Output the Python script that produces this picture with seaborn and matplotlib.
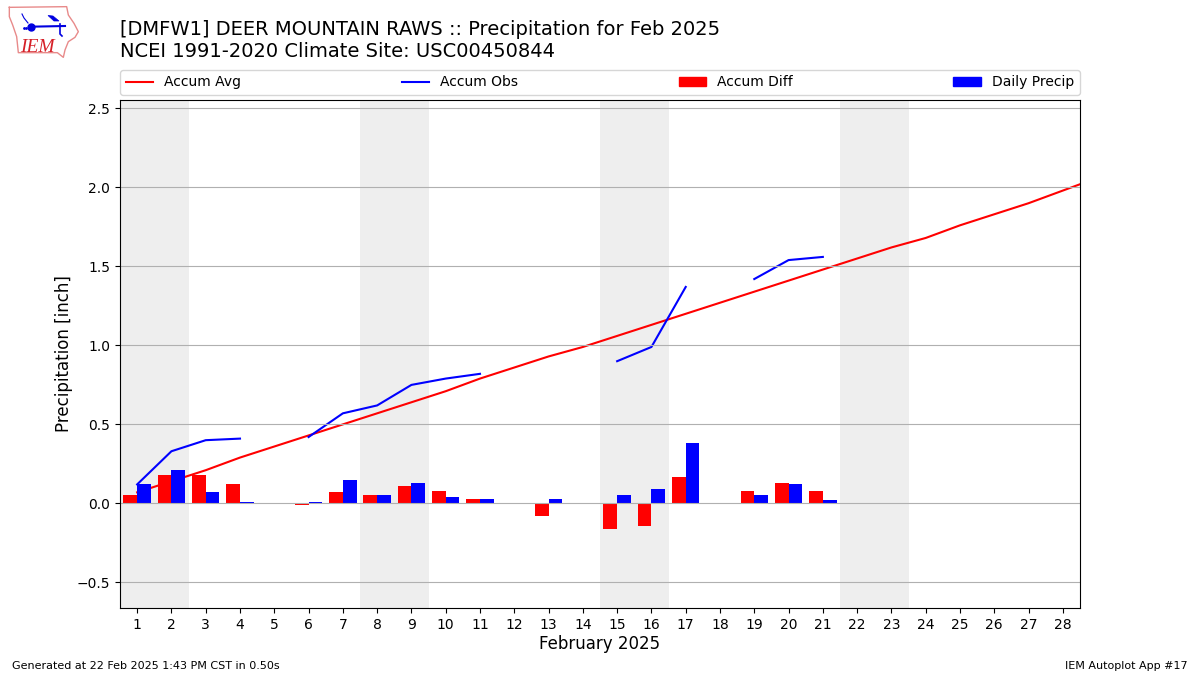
import numpy as np
import pandas as pd
import matplotlib
matplotlib.use("Agg")
import matplotlib.pyplot as plt
from matplotlib.lines import Line2D
from matplotlib.patches import Patch
import seaborn as sns

days = list(range(1, 30))
accum_avg = [0.07, 0.14, 0.21, 0.29, 0.36, 0.43, 0.50, 0.57, 0.64, 0.71, 0.79, 0.86, 0.93, 0.99,
             1.06, 1.13, 1.20, 1.27, 1.34, 1.41, 1.48, 1.55, 1.62, 1.68, 1.76, 1.83, 1.90, 1.98, 2.06]
nan = np.nan
accum_obs = [0.12, 0.33, 0.40, 0.41, nan, 0.42, 0.57, 0.62, 0.75, 0.79, 0.82, nan, nan, nan,
             0.90, 0.99, 1.37, nan, 1.42, 1.54, 1.56] + [nan] * 8
bar_days = [1, 2, 3, 4, 6, 7, 8, 9, 10, 11, 13, 15, 16, 17, 19, 20, 21]
accum_diff = [0.05, 0.18, 0.18, 0.12, -0.012, 0.075, 0.05, 0.11, 0.08, 0.03, -0.08, -0.16, -0.145, 0.17, 0.08, 0.13, 0.08]
daily_precip = [0.12, 0.21, 0.075, 0.01, 0.01, 0.15, 0.05, 0.13, 0.04, 0.03, 0.03, 0.05, 0.09, 0.38, 0.05, 0.12, 0.02]
weekends = [(0.5, 2.5), (7.5, 9.5), (14.5, 16.5), (21.5, 23.5)]
y_ticks = [-0.5, 0.0, 0.5, 1.0, 1.5, 2.0, 2.5]

title_text = "[DMFW1] DEER MOUNTAIN RAWS :: Precipitation for Feb 2025\nNCEI 1991-2020 Climate Site: USC00450844"
footer_left = "Generated at 22 Feb 2025 1:43 PM CST in 0.50s"
footer_right = "IEM Autoplot App #17"

fig = plt.figure(figsize=(12, 6.75), dpi=100)
ax = fig.add_axes([0.1, 0.0993, 0.8, 0.7525])

for lo, hi in weekends:
    ax.axvspan(lo, hi, color="#eeeeee", lw=0, zorder=0)

bars = pd.DataFrame({
    "day": bar_days * 2,
    "value": accum_diff + daily_precip,
    "series": ["Accum Diff"] * len(bar_days) + ["Daily Precip"] * len(bar_days),
})
sns.barplot(data=bars, x="day", y="value", hue="series", native_scale=True, width=0.8, gap=0,
            palette={"Accum Diff": "#ff0000", "Daily Precip": "#0000ff"},
            saturation=1, errorbar=None, legend=False, ax=ax)

sns.lineplot(x=days, y=accum_avg, color="#ff0000", lw=1.5, ax=ax, errorbar=None, zorder=0.9)

obs = pd.DataFrame({"day": days, "value": accum_obs})
obs["segment"] = obs["value"].isna().cumsum()
obs = obs.dropna()
sns.lineplot(data=obs, x="day", y="value", units="segment", estimator=None, color="#0000ff", lw=1.5, ax=ax, zorder=0.95)

ax.set_xlim(0.5, 28.5)
ax.set_ylim(-0.662, 2.553)
ax.set_xticks(range(1, 29))
ax.set_yticks(y_ticks)
ax.grid(axis="y", color="#b0b0b0", lw=0.8)
ax.grid(axis="x", visible=False)
ax.set_xlabel("February 2025", fontsize=12, labelpad=2.3)
ax.set_ylabel("Precipitation [inch]", fontsize=12, labelpad=3)

handles = [Line2D([], [], color="#ff0000", lw=1.5), Line2D([], [], color="#0000ff", lw=1.5),
           Patch(color="#ff0000"), Patch(color="#0000ff")]
ax.legend(handles, ["Accum Avg", "Accum Obs", "Accum Diff", "Daily Precip"], ncol=4, mode="expand",
          loc="lower left", bbox_to_anchor=(0, 1.01, 1, 0.05), borderaxespad=0, fontsize=10)

fig.text(0.1, 0.9095, title_text, fontsize=14, ha="left", va="bottom", linespacing=1.2)
fig.text(0.01, 0.006, footer_left, fontsize=8, ha="left", va="bottom")
fig.text(0.99, 0.006, footer_right, fontsize=8, ha="right", va="bottom")

# logo
logo = fig.add_axes([0, 0, 1, 1], facecolor="none")
logo.set_xlim(0, 1200)
logo.set_ylim(675, 0)
logo.axis("off")
outline = np.array([(28, 22), (200, 20), (205, 45), (222, 70), (235, 95), (225, 112), (205, 125), (195, 150),
                    (190, 172), (172, 158), (55, 158), (50, 110), (38, 75), (28, 50), (28, 22)]) / 3
logo.plot(outline[:, 0], outline[:, 1], color="#e88a8a", lw=1)
logo.plot([30.5, 65], [26.7, 26], color="#0000e0", lw=1.5)
logo.plot([31], [26.7], "o", color="#0000e0", ms=5)
logo.fill([48, 53, 59, 54], [15.5, 16, 21, 21], color="#0000e0", lw=0.5)
logo.plot([60, 60, 62], [24, 34, 36], color="#0000e0", lw=1.2)
logo.plot([22, 24, 28], [14, 18, 23], color="#0000e0", lw=0.8)
logo.plot([24, 26], [28, 28], ".", color="#0000e0", ms=2)
logo.text(20.5, 52, "IEM", family="Liberation Serif", style="italic", color="#d62028", fontsize=14, ha="left", va="baseline")

fig.savefig("out.png", dpi=100)
